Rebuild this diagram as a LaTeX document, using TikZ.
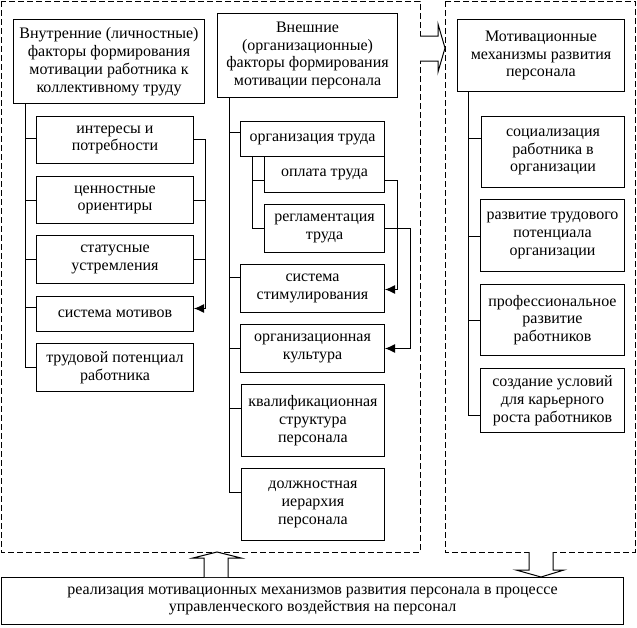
\documentclass[tikz,border=0pt]{standalone}
\usepackage{fontspec}
\setmainfont{Liberation Serif}
\usetikzlibrary{arrows.meta}

\tikzset{
    blk/.style={draw,line width=1pt,inner sep=0,align=center,anchor=north west,
        font=\fontsize{16}{17.8}\selectfont},
    zone/.style={draw,line width=1pt,dash pattern=on 6pt off 3pt},
    tie/.style={line width=1pt},
    arr/.style={line width=1pt,-{Latex[length=10pt,width=9pt]}},
    hollow/.style={line width=1pt,fill=white}
}

\begin{document}
\begin{tikzpicture}[x=1pt,y=-1pt]
    \useasboundingbox (0,0) rectangle (637,627);
    \draw[zone] (1,1) rectangle (420,552);
    \draw[zone] (445,1) rectangle (635,552);
    % left column
    \node[blk,minimum width=191,minimum height=84] (inner) at (13,19)
        {Внутренние (личностные)\\факторы формирования\\мотивации работника к\\коллективному труду};
    \node[blk,minimum width=157,minimum height=47] (int) at (36,116) {интересы и\\потребности};
    \node[blk,minimum width=157,minimum height=47] (cen) at (36,176) {ценностные\\ориентиры};
    \node[blk,minimum width=157,minimum height=48] (sta) at (36,235) {статусные\\устремления};
    \node[blk,minimum width=157,minimum height=35] (smo) at (36,296) {система мотивов};
    \node[blk,minimum width=157,minimum height=48] (tpr) at (36,343) {трудовой потенциал\\работника};
    % middle column
    \node[blk,minimum width=180,minimum height=84] (outer) at (217,13)
        {Внешние\\(организационные)\\факторы формирования\\мотивации персонала};
    \node[blk,minimum width=144,minimum height=35] (otr) at (240,121) {организация труда};
    \node[blk,minimum width=120,minimum height=36] (opl) at (264,156) {оплата труда};
    \node[blk,minimum width=120,minimum height=48] (reg) at (264,204) {регламентация\\труда};
    \node[blk,minimum width=144,minimum height=48] (sst) at (240,264) {система\\стимулирования};
    \node[blk,minimum width=144,minimum height=48] (okl) at (240,324) {организационная\\культура};
    \node[blk,minimum width=143,minimum height=72] (kva) at (241,384) {квалификационная\\структура\\персонала};
    \node[blk,minimum width=143,minimum height=72] (dol) at (241,468) {должностная\\иерархия\\персонала};
    % right column
    \node[blk,minimum width=167,minimum height=72] (mmr) at (457,19)
        {Мотивационные\\механизмы развития\\персонала};
    \node[blk,minimum width=143,minimum height=71] (soc) at (481,116) {социализация\\работника в\\организации};
    \node[blk,minimum width=144,minimum height=72] (rtp) at (480,199) {развитие трудового\\потенциала\\организации};
    \node[blk,minimum width=144,minimum height=71] (prf) at (480,284) {профессиональное\\развитие\\работников};
    \node[blk,minimum width=144,minimum height=64] (csu) at (480,368) {создание условий\\для карьерного\\роста работников};
    % bottom
    \node[blk,minimum width=622,minimum height=47] (rea) at (1,577)
        {реализация мотивационных механизмов развития персонала в процессе\\управленческого воздействия на персонал};

    % trees
    \draw[tie] ([xshift=12]inner.south west) |- ([yshift=1.5]int.west);
    \draw[tie] ([xshift=12]inner.south west) |- (cen.west);
    \draw[tie] ([xshift=12]inner.south west) |- (sta.west);
    \draw[tie] ([xshift=12]inner.south west) |- ([yshift=6.5]smo.west);
    \draw[tie] ([xshift=12]inner.south west) |- (tpr.west);
    \draw[arr] ([yshift=1]int.east) -- ++(11,0) coordinate (lb) |- ([yshift=5.5]smo.east);
    \draw[tie] (cen.east) -- (cen.east -| lb);
    \draw[tie] (sta.east) -- (sta.east -| lb);

    \draw[tie] ([xshift=12]outer.south west) |- ([yshift=6.5]otr.west);
    \draw[tie] ([xshift=12]outer.south west) |- ([yshift=11]sst.west);
    \draw[tie] ([xshift=12]outer.south west) |- (okl.west);
    \draw[tie] ([xshift=12]outer.south west) |- ([yshift=12]kva.west);
    \draw[tie] ([xshift=12]outer.south west) |- ([yshift=12]dol.west);
    \draw[tie] ([xshift=12]otr.south west) |- ([yshift=-6]opl.west);
    \draw[tie] ([xshift=12]otr.south west) |- (reg.west);
    \draw[arr] ([yshift=-6]opl.east) -- ++(12,0) |- ([yshift=-1]sst.east);
    \draw[arr] (reg.east) -- ++(25,0) |- (okl.east);

    \draw[tie] ([xshift=11]mmr.south west) |- ([yshift=13.5]soc.west);
    \draw[tie] ([xshift=11]mmr.south west) |- ([yshift=-1]rtp.west);
    \draw[tie] ([xshift=11]mmr.south west) |- (prf.west);
    \draw[tie] ([xshift=11]mmr.south west) |- ([yshift=-15]csu.west);

    % block arrows
    \draw[hollow] (420,36) -- (438,36) -- (438,24) -- (445,48) -- (438,72) -- (438,61) -- (420,61);
    \draw[hollow] (204,577) -- (204,558) -- (193,558) -- (217,552) -- (241,558) -- (228,558) -- (228,577);
    \draw[hollow] (529,552) -- (529,570) -- (516,570) -- (541,577) -- (564,570) -- (553,570) -- (553,552);
\end{tikzpicture}
\end{document}
